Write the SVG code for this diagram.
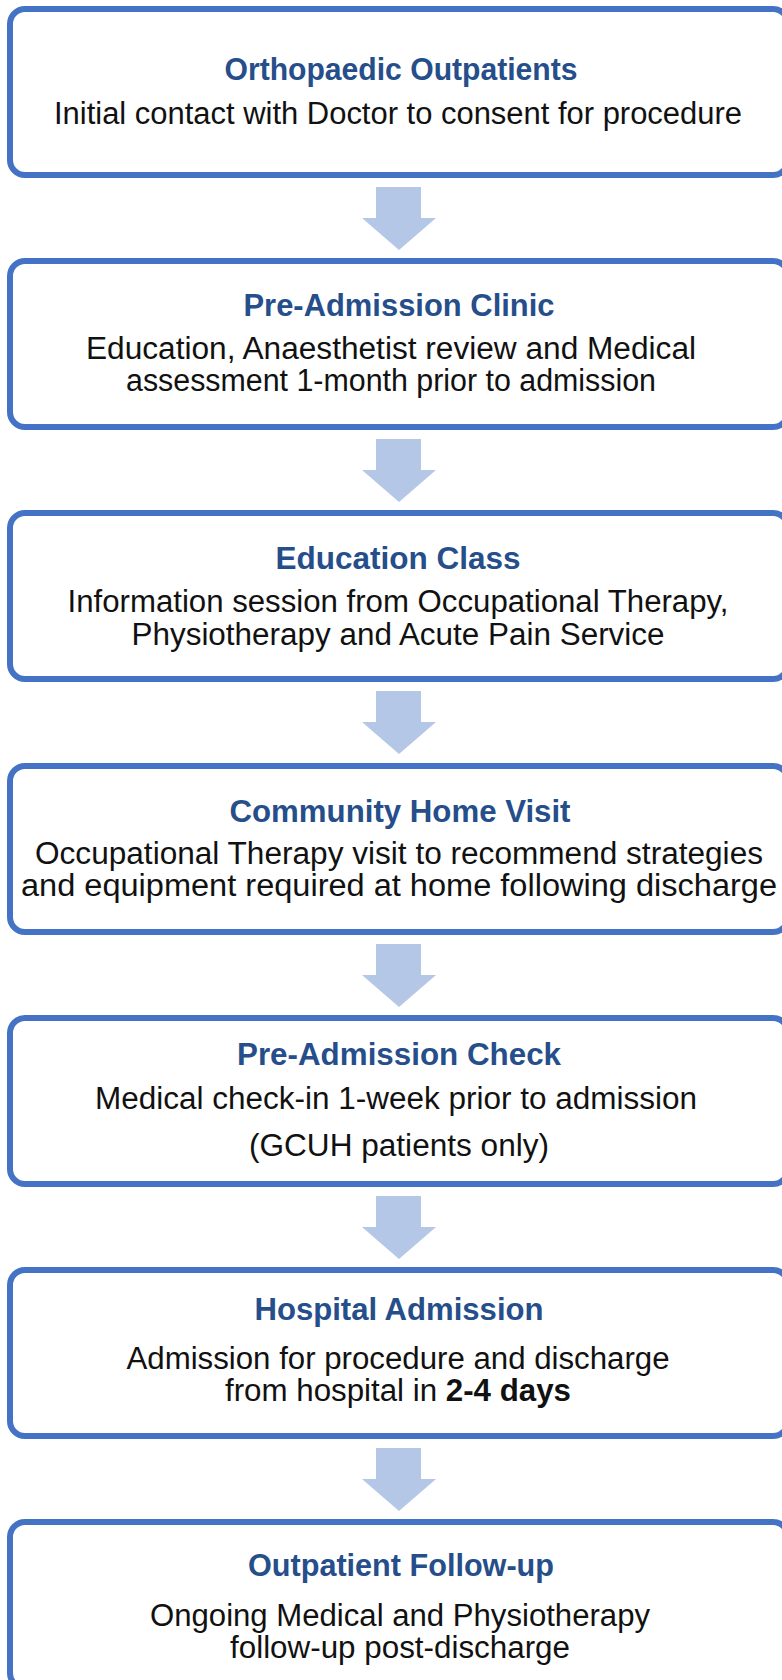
<svg xmlns="http://www.w3.org/2000/svg" width="782" height="1680" viewBox="0 0 782 1680">
<defs>
<style>
.box{fill:#fff;stroke:#4472C4;stroke-width:6}
.t{font-family:"Liberation Sans",Arial,sans-serif;font-size:31px;font-weight:bold;fill:#254E8A;text-anchor:middle}
.b{font-family:"Liberation Sans",Arial,sans-serif;font-size:31px;fill:#111;text-anchor:middle}
.arr{fill:#B4C7E7}
</style>
<polygon id="arrow" points="376,0 421,0 421,31 436,31 399,63 362,31 376,31"/>
</defs>
<rect width="782" height="1680" fill="#fff"/>
<g id="connectors" class="arr">
<use href="#arrow" y="187"/>
<use href="#arrow" y="439"/>
<use href="#arrow" y="691"/>
<use href="#arrow" y="944"/>
<use href="#arrow" y="1196"/>
<use href="#arrow" y="1448"/>
</g>
<g id="n1">
<rect class="box" x="10" y="9" width="778" height="166" rx="15"/>
<text class="t" x="401" y="80" textLength="353" lengthAdjust="spacingAndGlyphs">Orthopaedic Outpatients</text>
<text class="b" x="398" y="124" textLength="688" lengthAdjust="spacingAndGlyphs">Initial contact with Doctor to consent for procedure</text>
</g>
<g id="n2">
<rect class="box" x="10" y="261" width="778" height="166" rx="15"/>
<text class="t" x="399" y="316" textLength="311" lengthAdjust="spacingAndGlyphs">Pre-Admission Clinic</text>
<text class="b" x="391" y="359" textLength="610" lengthAdjust="spacingAndGlyphs">Education, Anaesthetist review and Medical</text>
<text class="b" x="391" y="391" textLength="530" lengthAdjust="spacingAndGlyphs">assessment 1-month prior to admission</text>
</g>
<g id="n3">
<rect class="box" x="10" y="513" width="778" height="166" rx="15"/>
<text class="t" x="398" y="569" textLength="245" lengthAdjust="spacingAndGlyphs">Education Class</text>
<text class="b" x="398" y="612" textLength="661" lengthAdjust="spacingAndGlyphs">Information session from Occupational Therapy,</text>
<text class="b" x="398" y="645" textLength="533" lengthAdjust="spacingAndGlyphs">Physiotherapy and Acute Pain Service</text>
</g>
<g id="n4">
<rect class="box" x="10" y="766" width="778" height="166" rx="15"/>
<text class="t" x="400" y="822" textLength="341" lengthAdjust="spacingAndGlyphs">Community Home Visit</text>
<text class="b" x="399" y="864" textLength="728" lengthAdjust="spacingAndGlyphs">Occupational Therapy visit to recommend strategies</text>
<text class="b" x="399" y="896" textLength="756" lengthAdjust="spacingAndGlyphs">and equipment required at home following discharge</text>
</g>
<g id="n5">
<rect class="box" x="10" y="1018" width="778" height="166" rx="15"/>
<text class="t" x="399" y="1065" textLength="324" lengthAdjust="spacingAndGlyphs">Pre-Admission Check</text>
<text class="b" x="396" y="1109" textLength="602" lengthAdjust="spacingAndGlyphs">Medical check-in 1-week prior to admission</text>
<text class="b" x="399" y="1156" textLength="300" lengthAdjust="spacingAndGlyphs">(GCUH patients only)</text>
</g>
<g id="n6">
<rect class="box" x="10" y="1270" width="778" height="166" rx="15"/>
<text class="t" x="399" y="1320" textLength="289" lengthAdjust="spacingAndGlyphs">Hospital Admission</text>
<text class="b" x="398" y="1369" textLength="543" lengthAdjust="spacingAndGlyphs">Admission for procedure and discharge</text>
<text class="b" x="398" y="1401" textLength="346" lengthAdjust="spacingAndGlyphs">from hospital in <tspan font-weight="bold">2-4 days</tspan></text>
</g>
<g id="n7">
<rect class="box" x="10" y="1522" width="778" height="166" rx="15"/>
<text class="t" x="401" y="1576" textLength="306" lengthAdjust="spacingAndGlyphs">Outpatient Follow-up</text>
<text class="b" x="400" y="1626" textLength="500" lengthAdjust="spacingAndGlyphs">Ongoing Medical and Physiotherapy</text>
<text class="b" x="400" y="1658" textLength="340" lengthAdjust="spacingAndGlyphs">follow-up post-discharge</text>
</g>
</svg>
